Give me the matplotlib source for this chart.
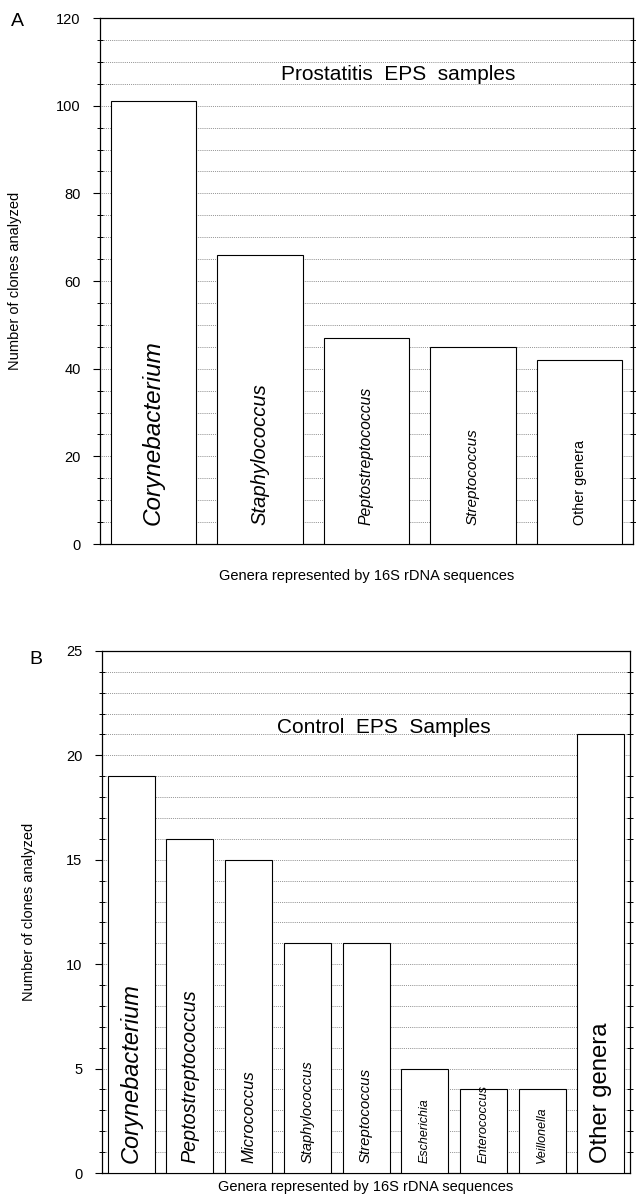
import matplotlib
matplotlib.use("Agg")
import matplotlib.pyplot as plt
from matplotlib.ticker import MultipleLocator

plt.rcParams['font.family'] = ['Liberation Sans', 'DejaVu Sans']

# panel A: prostatitis EPS samples
genera_a = ['Corynebacterium', 'Staphylococcus', 'Peptostreptococcus',
            'Streptococcus', 'Other genera']
clones_a = [101, 66, 47, 45, 42]
sizes_a = [17.5, 14.6, 11.3, 11, 10.4]

# panel B: control EPS samples
genera_b = ['Corynebacterium', 'Peptostreptococcus', 'Micrococcus',
            'Staphylococcus', 'Streptococcus', 'Escherichia',
            'Enterococcus', 'Veillonella', 'Other genera']
clones_b = [19, 16, 15, 11, 11, 5, 4, 4, 21]
sizes_b = [17, 14.2, 12, 10.5, 10.8, 9, 9.3, 9, 17.2]

fig = plt.figure(figsize=(6.36, 12.01), dpi=100)
ax1 = fig.add_axes([0.1572, 0.547, 0.838, 0.438])
ax2 = fig.add_axes([0.160, 0.0233, 0.831, 0.4347])


def draw(ax, names, values, sizes, ymax, major, minor, title, title_xy,
         label_off, letter, letter_xy, ylab_x, xlab_pad):
    xs = range(len(names))
    ax.bar(xs, values, width=0.8, color='white', edgecolor='black',
           linewidth=0.8, zorder=3)
    for x, name, fs in zip(xs, names, sizes):
        style = 'normal' if name == 'Other genera' else 'italic'
        ax.annotate(name, xy=(x, 0), xytext=(0, label_off),
                    textcoords='offset points', rotation=90,
                    ha='center', va='bottom', fontsize=fs,
                    fontstyle=style, zorder=4)
    ax.set_xlim(-0.5, len(names) - 0.5)
    ax.set_ylim(0, ymax)
    ax.set_xticks([])
    ax.yaxis.set_major_locator(MultipleLocator(major))
    ax.yaxis.set_minor_locator(MultipleLocator(minor))
    ax.yaxis.grid(True, which='both', linestyle=(0, (1, 1.5)),
                  color='0.35', linewidth=0.55)
    ax.set_axisbelow(True)
    ax.tick_params(axis='y', which='major', direction='out', length=5,
                   width=0.8, labelsize=10.5, pad=9)
    ax.tick_params(axis='y', which='minor', direction='inout', length=5,
                   width=0.7, right=True)
    for s in ax.spines.values():
        s.set_linewidth(0.9)
    ax.text(title_xy[0], title_xy[1], title, transform=ax.transAxes,
            ha='center', va='center', fontsize=15)
    ax.set_xlabel('Genera represented by 16S rDNA sequences',
                  fontsize=10.5, labelpad=xlab_pad)
    ax.set_ylabel('Number of clones analyzed', fontsize=10.5)
    ax.yaxis.set_label_coords(ylab_x, 0.5)
    fig.text(letter_xy[0], letter_xy[1], letter, fontsize=14,
             ha='center', va='center')


draw(ax1, genera_a, clones_a, sizes_a, 120, 20, 5,
     'Prostatitis  EPS  samples', (0.559, 0.892), 14, 'A',
     (17 / 636, 1 - 21 / 1201), -0.147, 18)
draw(ax2, genera_b, clones_b, sizes_b, 25, 5, 1,
     'Control  EPS  Samples', (0.534, 0.854), 7, 'B',
     (36 / 636, 1 - 660 / 1201), -0.124, 5)

fig.savefig('out.png', dpi=100)
